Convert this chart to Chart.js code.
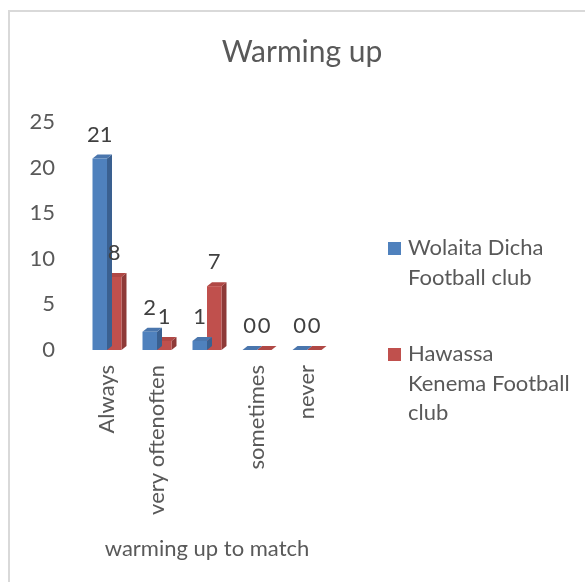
<!DOCTYPE html>
<html>
<head>
<meta charset="utf-8">
<title>Warming up</title>
<script src="https://cdn.jsdelivr.net/npm/chart.js@4/dist/chart.umd.min.js"></script>
<style>
    body { margin: 0; background: #fff; }
    #warmingUpChart { display: block; }
</style>
</head>
<body>
<canvas id="warmingUpChart" width="585" height="582"></canvas>
<script>
const categories = ['Always', 'very oftenoften', '', 'sometimes', 'never'];
const wolaitaDicha = [21, 2, 1, 0, 0];
const hawassaKenema = [8, 1, 7, 0, 0];
const clubNames = ['Wolaita Dicha Football club', 'Hawassa Kenema Football club'];
const legendLines = [['Wolaita Dicha', 'Football club'], ['Hawassa', 'Kenema Football', 'club']];

const fontName = 'Lato, "Open Sans", sans-serif';
const textGrey = '#595959';
const textSize = 22;

const frontColors = ['#4f81bd', '#c0504d'];
const sideColors = ['#3a6090', '#8e3a38'];
const topColors = ['#4a76ad', '#b04845'];

// fake 3d: side and top faces go under each dataset's front faces
const barDepth = {
    id: 'barDepth',
    beforeDatasetDraw(chart, args) {
        const ctx = chart.ctx;
        const i = args.index;
        const dx = 5, dy = 4;
        args.meta.data.forEach(bar => {
            const left = bar.x - bar.width / 2;
            const right = bar.x + bar.width / 2;
            ctx.save();
            ctx.fillStyle = sideColors[i];
            ctx.beginPath();
            ctx.moveTo(right, bar.y);
            ctx.lineTo(right + dx, bar.y - dy);
            ctx.lineTo(right + dx, bar.base - dy);
            ctx.lineTo(right, bar.base);
            ctx.closePath();
            ctx.fill();
            ctx.fillStyle = topColors[i];
            ctx.beginPath();
            ctx.moveTo(left, bar.y);
            ctx.lineTo(left + dx, bar.y - dy);
            ctx.lineTo(right + dx, bar.y - dy);
            ctx.lineTo(right, bar.y);
            ctx.closePath();
            ctx.fill();
            ctx.restore();
        });
    }
};

// frame, title, value labels and the wrapped legend on the right
const decorations = {
    id: 'decorations',
    beforeDraw(chart) {
        const ctx = chart.ctx;
        ctx.save();
        ctx.strokeStyle = '#d9d9d9';
        ctx.lineWidth = 2;
        ctx.strokeRect(9, 11, 700, 700);
        ctx.restore();
    },
    afterDatasetsDraw(chart) {
        const ctx = chart.ctx;
        ctx.save();
        ctx.fillStyle = textGrey;
        ctx.textAlign = 'center';
        ctx.textBaseline = 'middle';
        ctx.font = '30px ' + fontName;
        ctx.fillText('Warming up', 302, 52);

        ctx.fillStyle = '#404040';
        ctx.font = textSize + 'px ' + fontName;
        chart.data.datasets.forEach((ds, i) => {
            chart.getDatasetMeta(i).data.forEach((bar, j) => {
                ctx.fillText(String(ds.data[j]), bar.x, bar.y - 24);
            });
        });

        ctx.textAlign = 'left';
        const legendTop = [248, 354];
        legendLines.forEach((lines, i) => {
            ctx.fillStyle = frontColors[i];
            ctx.fillRect(388, legendTop[i] - 6, 13, 13);
            ctx.fillStyle = textGrey;
            lines.forEach((line, k) => {
                ctx.fillText(line, 408, legendTop[i] + k * 29.5);
            });
        });
        ctx.restore();
    }
};

const ctx = document.getElementById('warmingUpChart');
new Chart(ctx, {
    type: 'bar',
    data: {
        labels: categories,
        datasets: [{
            label: clubNames[0],
            data: wolaitaDicha,
            backgroundColor: frontColors[0]
        }, {
            label: clubNames[1],
            data: hawassaKenema,
            backgroundColor: frontColors[1]
        }]
    },
    options: {
        responsive: false,
        animation: false,
        categoryPercentage: 0.58,
        barPercentage: 1,
        layout: { padding: { left: 0, top: 122, right: 253, bottom: 0 } },
        plugins: {
            legend: { display: false },
            title: { display: false },
            tooltip: { enabled: false }
        },
        scales: {
            x: {
                grid: { display: false, drawTicks: false },
                border: { display: false },
                afterFit(scale) { scale.height = 232; },
                ticks: {
                    autoSkip: false,
                    minRotation: 90,
                    maxRotation: 90,
                    padding: 15,
                    color: textGrey,
                    font: { family: fontName, size: textSize }
                },
                title: {
                    display: true,
                    text: 'warming up to match',
                    color: textGrey,
                    padding: { top: 0, bottom: 20 },
                    font: { family: fontName, size: textSize }
                }
            },
            y: {
                min: 0,
                max: 25,
                grid: { display: false, drawTicks: false },
                border: { display: false },
                afterFit(scale) { scale.width = 82; },
                ticks: {
                    stepSize: 5,
                    padding: 27,
                    color: textGrey,
                    font: { family: fontName, size: textSize }
                }
            }
        }
    },
    plugins: [barDepth, decorations]
});
</script>
</body>
</html>
